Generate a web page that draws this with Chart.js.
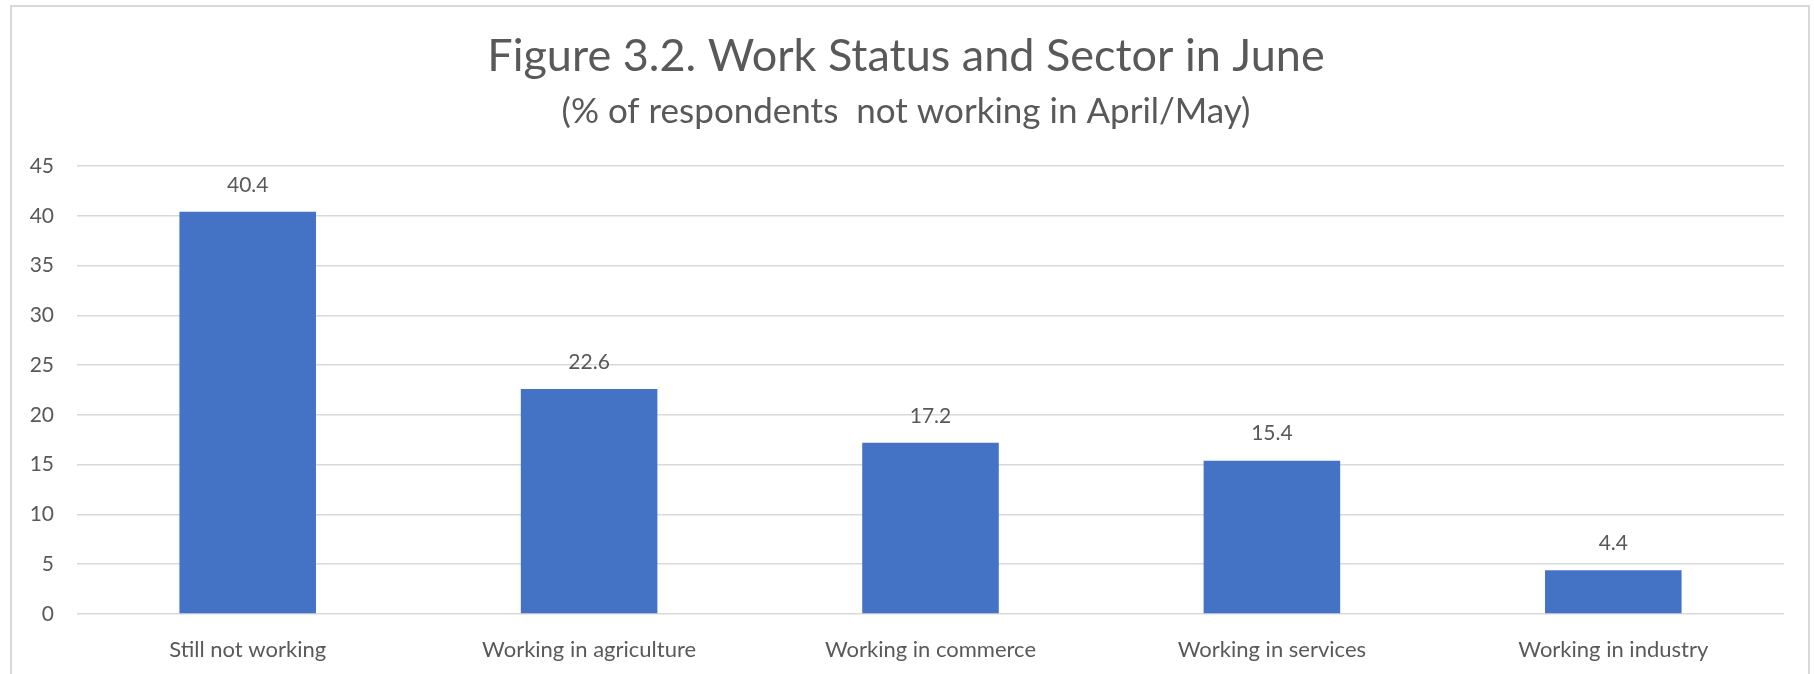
<!DOCTYPE html>
<html>
<head>
<meta charset="utf-8">
<script src="https://cdn.jsdelivr.net/npm/chart.js@4.4.0/dist/chart.umd.min.js"></script>
<style>
  html, body { margin: 0; padding: 0; background: #fff; overflow: hidden; }
</style>
</head>
<body>
<canvas id="myChart" width="1814" height="674"></canvas>
<script>
const categories = ["Still not working", "Working in agriculture", "Working in commerce", "Working in services", "Working in industry"];
const shares = [40.4, 22.6, 17.2, 15.4, 4.4];
const yTicks = [0, 5, 10, 15, 20, 25, 30, 35, 40, 45];

const textColor = "#595959";
const fontFamily = "Lato, 'Open Sans', sans-serif";

// outer frame like the exported office chart
const framePlugin = {
  id: "frame",
  beforeDraw(chart) {
    const ctx = chart.ctx;
    ctx.save();
    ctx.strokeStyle = "#d9d9d9";
    ctx.lineWidth = 2;
    ctx.strokeRect(11, 6, 1798, 720);
    ctx.restore();
  }
};

// value labels above the bars
const valueLabels = {
  id: "valueLabels",
  afterDatasetsDraw(chart) {
    const ctx = chart.ctx;
    const meta = chart.getDatasetMeta(0);
    ctx.save();
    ctx.fillStyle = textColor;
    ctx.font = "21px " + fontFamily;
    ctx.textAlign = "center";
    ctx.textBaseline = "middle";
    meta.data.forEach((bar, i) => {
      ctx.fillText(shares[i].toFixed(1), bar.x, bar.y - 27);
    });
    ctx.restore();
  }
};

const ctx = document.getElementById("myChart").getContext("2d");
new Chart(ctx, {
  type: "bar",
  data: {
    labels: categories,
    datasets: [{
      data: shares,
      backgroundColor: "#4472c4",
      categoryPercentage: 1,
      barPercentage: 0.4
    }]
  },
  options: {
    responsive: false,
    animation: false,
    layout: {
      padding: { left: 28, right: 30, top: 0, bottom: 0 }
    },
    scales: {
      x: {
        grid: { display: false },
        border: { display: false },
        ticks: {
          color: textColor,
          font: { family: fontFamily, size: 22 },
          padding: 15,
          maxRotation: 0
        },
        afterFit: (scale) => { scale.height = 60; }
      },
      y: {
        min: 0,
        max: 45,
        afterBuildTicks: (scale) => { scale.ticks = yTicks.map(v => ({ value: v })); },
        grid: { color: "#d9d9d9", lineWidth: 1.5, drawTicks: false },
        border: { display: false },
        ticks: {
          color: textColor,
          font: { family: fontFamily, size: 21 },
          padding: 23
        },
        afterFit: (scale) => { scale.width = 49; }
      }
    },
    plugins: {
      legend: { display: false },
      tooltip: { enabled: false },
      title: {
        display: true,
        text: "Figure 3.2. Work Status and Sector in June",
        color: textColor,
        font: { family: fontFamily, size: 45, weight: "normal" },
        padding: { top: 29, bottom: 0 }
      },
      subtitle: {
        display: true,
        text: "(% of respondents  not working in April/May)",
        color: textColor,
        font: { family: fontFamily, size: 35, weight: "normal" },
        padding: { top: 8, bottom: 33 }
      }
    }
  },
  plugins: [framePlugin, valueLabels]
});
</script>
</body>
</html>
